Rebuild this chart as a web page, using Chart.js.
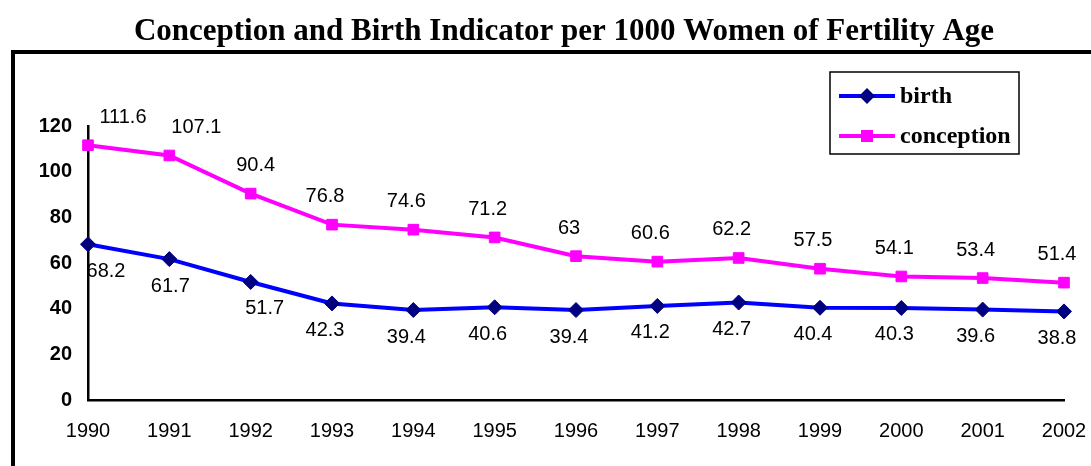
<!DOCTYPE html>
<html>
<head>
<meta charset="utf-8">
<script src="https://cdn.jsdelivr.net/npm/chart.js@4.4.1/dist/chart.umd.min.js"></script>
<style>
  html, body { margin: 0; padding: 0; background: #fff; }
  #wrap { position: relative; width: 1091px; height: 466px; }
</style>
</head>
<body>
<div id="wrap"><canvas id="myChart" width="1091" height="466"></canvas></div>
<script>
// dati
const years = ['1990', '1991', '1992', '1993', '1994', '1995', '1996', '1997', '1998', '1999', '2000', '2001', '2002'];
const birth = [68.2, 61.7, 51.7, 42.3, 39.4, 40.6, 39.4, 41.2, 42.7, 40.4, 40.3, 39.6, 38.8];
const conception = [111.6, 107.1, 90.4, 76.8, 74.6, 71.2, 63, 60.6, 62.2, 57.5, 54.1, 53.4, 51.4];
const yTicks = [0, 20, 40, 60, 80, 100, 120];
const chartTitle = 'Conception and Birth Indicator per 1000 Women of Fertility Age';

// spostamento orizzontale delle etichette vicino all'asse (come in Excel)
const birthNudge = [25, 8, 21];
const conceptionNudge = [42, 34, 12];

const serif = '"Liberation Serif", "Times New Roman", serif';
const sans = '"Liberation Sans", Arial, sans-serif';

// cornice, titolo, etichette dati e legenda
const excelLook = {
    id: 'excelLook',
    beforeDraw(chart) {
        const ctx = chart.ctx;
        ctx.save();
        ctx.strokeStyle = '#000';
        ctx.lineWidth = 4;
        ctx.beginPath();
        ctx.moveTo(13, 520);
        ctx.lineTo(13, 52);
        ctx.lineTo(1100, 52);
        ctx.stroke();

        ctx.fillStyle = '#000';
        ctx.font = 'bold 31px ' + serif;
        ctx.textAlign = 'center';
        ctx.textBaseline = 'alphabetic';
        ctx.fillText(chartTitle, 564, 40);
        ctx.restore();
    },
    afterDatasetsDraw(chart) {
        const ctx = chart.ctx;
        ctx.save();
        ctx.font = '20px ' + sans;
        ctx.fillStyle = '#000';
        ctx.textAlign = 'center';
        ctx.textBaseline = 'middle';
        chart.data.datasets.forEach((ds, i) => {
            const meta = chart.getDatasetMeta(i);
            const nudge = i === 0 ? birthNudge : conceptionNudge;
            const dy = i === 0 ? 27 : -28;
            meta.data.forEach((pt, j) => {
                const dx = -7 + (nudge[j] || 0);
                ctx.fillText(String(ds.data[j]), pt.x + dx, pt.y + dy);
            });
        });

        // legenda
        const bx = 830, by = 72, bw = 189, bh = 82;
        ctx.fillStyle = '#fff';
        ctx.fillRect(bx, by, bw, bh);
        ctx.strokeStyle = '#000';
        ctx.lineWidth = 1.5;
        ctx.strokeRect(bx, by, bw, bh);
        ctx.font = 'bold 24px ' + serif;
        ctx.textAlign = 'left';
        chart.data.datasets.forEach((ds, i) => {
            const y = i === 0 ? 96 : 136;
            ctx.strokeStyle = ds.borderColor;
            ctx.lineWidth = 4;
            ctx.beginPath();
            ctx.moveTo(839, y);
            ctx.lineTo(895, y);
            ctx.stroke();
            ctx.fillStyle = ds.pointBackgroundColor;
            ctx.beginPath();
            if (ds.pointStyle === 'rectRot') {
                ctx.moveTo(867, y - 8);
                ctx.lineTo(875, y);
                ctx.lineTo(867, y + 8);
                ctx.lineTo(859, y);
                ctx.closePath();
            } else {
                ctx.rect(861, y - 6, 12, 12);
            }
            ctx.fill();
            ctx.fillStyle = '#000';
            ctx.fillText(ds.label, 900, y + 1);
        });
        ctx.restore();
    }
};

const ctx = document.getElementById('myChart').getContext('2d');
const myChart = new Chart(ctx, {
    type: 'line',
    data: {
        labels: years,
        datasets: [{
            label: 'birth',
            data: birth,
            borderColor: '#0000ff',
            borderWidth: 4,
            pointStyle: 'rectRot',
            pointRadius: 7.5,
            pointBackgroundColor: '#000080',
            pointBorderColor: '#000080',
            pointBorderWidth: 1,
            tension: 0
        }, {
            label: 'conception',
            data: conception,
            borderColor: '#ff00ff',
            borderWidth: 4,
            pointStyle: 'rect',
            pointRadius: 7.5,
            pointBackgroundColor: '#ff00ff',
            pointBorderColor: '#ff00ff',
            pointBorderWidth: 1,
            tension: 0
        }]
    },
    options: {
        responsive: false,
        animation: false,
        layout: { padding: { left: 0, right: 27, top: 126, bottom: 0 } },
        plugins: {
            legend: { display: false },
            tooltip: { enabled: false },
            title: { display: false }
        },
        scales: {
            x: {
                offset: false,
                grid: { display: false, drawTicks: true, tickLength: 6, tickColor: '#000', tickWidth: 2 },
                border: { color: '#000', width: 2.5 },
                ticks: {
                    color: '#000',
                    padding: 13,
                    maxRotation: 0,
                    autoSkip: false,
                    font: { family: sans, size: 20 }
                },
                afterFit(scale) {
                    scale.height = 66;
                    scale.paddingLeft = 0;
                    scale.paddingRight = 0;
                }
            },
            y: {
                min: 0,
                max: 120,
                afterBuildTicks(scale) { scale.ticks = yTicks.map(v => ({ value: v })); },
                grid: { display: false, drawTicks: true, tickLength: 7, tickColor: '#000', tickWidth: 2 },
                border: { color: '#000', width: 2.5 },
                ticks: {
                    color: '#000',
                    padding: 9,
                    font: { family: sans, size: 20, weight: 'bold' }
                },
                afterFit(scale) { scale.width = 88; }
            }
        }
    },
    plugins: [excelLook]
});
</script>
</body>
</html>
